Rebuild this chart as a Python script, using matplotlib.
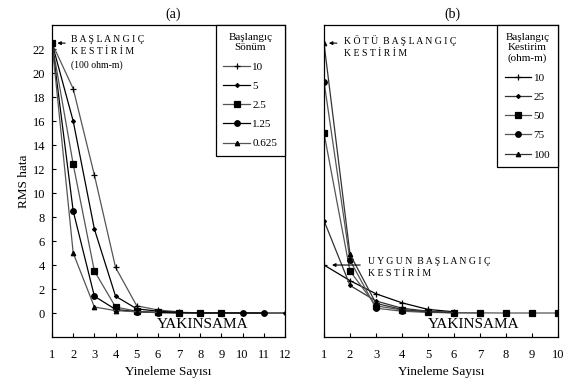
import numpy as np
import matplotlib.pyplot as plt

plt.rcParams['font.family'] = ['Liberation Serif', 'DejaVu Serif']

# ---------- Data: panel (a) ----------
sonum_labels = ['10', '5', '2.5', '1.25', '0.625']
iter_a = {
    '10':    [1, 2, 3, 4, 5, 6, 7],
    '5':     [1, 2, 3, 4, 5, 6, 7, 8, 9, 10, 11, 12],
    '2.5':   [1, 2, 3, 4, 5, 6, 7, 8, 9],
    '1.25':  [1, 2, 3, 4, 5, 6, 7, 8, 9, 10, 11],
    '0.625': [1, 2, 3, 4, 5, 6],
}
rms_a = {
    '10':    [22.5, 18.7, 11.5, 3.8, 0.6, 0.25, 0.1],
    '5':     [22.5, 16.0, 7.0, 1.4, 0.35, 0.15, 0.05, 0.02, 0.01, 0.0, 0.0, 0.0],
    '2.5':   [22.5, 12.4, 3.5, 0.5, 0.15, 0.05, 0.02, 0.01, 0.0],
    '1.25':  [22.5, 8.5, 1.4, 0.3, 0.1, 0.03, 0.01, 0.0, 0.0, 0.0, 0.0],
    '0.625': [22.5, 5.0, 0.5, 0.2, 0.1, 0.05],
}

# ---------- Data: panel (b) ----------
kestirim_labels = ['10', '25', '50', '75', '100']
iter_b = {
    '10':  [1, 2, 3, 4, 5, 6],
    '25':  [1, 2, 3, 4, 5, 6],
    '50':  [1, 2, 3, 4, 5, 6, 7, 8, 9, 10],
    '75':  [1, 2, 3, 4, 5, 6, 7],
    '100': [1, 2, 3, 4, 5, 6],
}
rms_b = {
    '10':  [4.0, 2.7, 1.6, 0.85, 0.3, 0.1],
    '25':  [7.7, 2.3, 1.0, 0.4, 0.15, 0.05],
    '50':  [15.0, 3.5, 0.6, 0.25, 0.08, 0.02, 0.01, 0.0, 0.0, 0.0],
    '75':  [19.3, 4.4, 0.4, 0.15, 0.05, 0.02, 0.0],
    '100': [22.5, 4.9, 0.8, 0.3, 0.1, 0.03],
}

markers = [('+', 5), ('D', 2.0), ('s', 4.0), ('o', 4.0), ('^', 3.2)]
colors_a = ['#555555', '#000000', '#555555', '#000000', '#555555']
colors_b = ['#000000', '#333333', '#555555', '#555555', '#333333']

fig = plt.figure(figsize=(5.63, 3.81), dpi=100)
ax1 = fig.add_axes([0.0924, 0.1155, 0.4138, 0.8185])
ax2 = fig.add_axes([0.5755, 0.1155, 0.4156, 0.8185])

for i, lab in enumerate(sonum_labels):
    m, ms = markers[i]
    ax1.plot(iter_a[lab], rms_a[lab], color=colors_a[i], lw=0.9, marker=m,
             ms=ms, mfc='black', mec='black', mew=0.9, label=lab)

for i, lab in enumerate(kestirim_labels):
    m, ms = markers[i]
    ax2.plot(iter_b[lab], rms_b[lab], color=colors_b[i], lw=0.9, marker=m,
             ms=ms, mfc='black', mec='black', mew=0.9, label=lab)

for ax, xmax in [(ax1, 12), (ax2, 10)]:
    ax.set_xlim(1, xmax)
    ax.set_ylim(-2, 24)
    ax.set_xticks(range(1, xmax + 1))
    ax.tick_params(axis='both', direction='in', length=3, width=0.8,
                   labelsize=9)
    ax.tick_params(axis='x', pad=9)
    ax.tick_params(axis='y', pad=5)
    for s in ax.spines.values():
        s.set_linewidth(0.9)
    ax.set_xlabel('Yineleme Sayısı', fontsize=9.5, labelpad=3)

ax1.set_yticks(range(0, 23, 2))
ax1.set_ylabel('RMS hata', fontsize=9.5, labelpad=2)
ax2.set_yticks([])

ax1.set_title('(a)', fontsize=10, pad=5, x=0.52)
ax2.set_title('(b)', fontsize=10, pad=5, x=0.55)

leg_kw = dict(loc='upper right', fontsize=8, title_fontsize=8,
              fancybox=False, edgecolor='black', framealpha=1,
              borderaxespad=0, handlelength=2.4, labelspacing=0.85,
              borderpad=0.7, handletextpad=0.2)
leg1 = ax1.legend(title='Başlangıç\nSönüm', **leg_kw)
leg2 = ax2.legend(title='Başlangıç\nKestirim\n(ohm-m)', **leg_kw)
for leg in (leg1, leg2):
    leg.get_frame().set_linewidth(0.9)
    leg.get_title().set_multialignment('center')

# ---------- Annotations ----------
arrow = dict(arrowstyle='-|>', color='black', lw=0.8, mutation_scale=5)
ax1.annotate('', xy=(1.12, 22.5), xytext=(1.75, 22.5), arrowprops=arrow)
ax1.text(1.9, 23.2, 'B A Ş L A N G I Ç\nK E S T İ R İ M\n(100 ohm-m)',
         fontsize=7, va='top', ha='left', linespacing=1.5)
ax1.text(8.1, -0.95, 'YAKINSAMA', fontsize=11, ha='center', va='center')

ax2.annotate('', xy=(1.08, 22.5), xytext=(1.6, 22.5), arrowprops=arrow)
ax2.text(1.75, 23.2, 'K Ö T Ü  B A Ş L A N G I Ç\nK E S T İ R İ M',
         fontsize=7, va='top', ha='left', linespacing=1.5)
ax2.annotate('', xy=(1.2, 4.0), xytext=(2.5, 4.0), arrowprops=arrow)
ax2.text(2.7, 4.7, 'U Y G U N  B A Ş L A N G I Ç\nK E S T İ R İ M',
         fontsize=7, va='top', ha='left', linespacing=1.5)
ax2.text(6.75, -0.95, 'YAKINSAMA', fontsize=11, ha='center', va='center')

plt.savefig('out.png', dpi=100)
